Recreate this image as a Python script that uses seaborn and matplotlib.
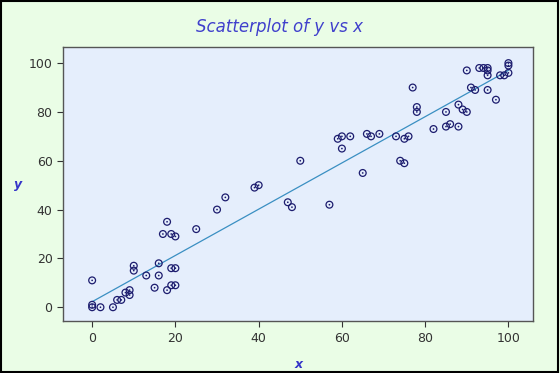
import numpy as np
import pandas as pd
import seaborn as sns
import matplotlib.pyplot as plt
from matplotlib.patches import Rectangle

x_vals = [0, 0, 0, 2, 5, 6, 7, 8, 9, 9, 10, 10, 13, 15, 16, 16, 18, 19, 20, 19,
          20, 18, 17, 19, 20, 25, 30, 32, 39, 40, 47, 48, 50, 57, 65, 59, 60, 60,
          62, 66, 67, 69, 73, 75, 76, 74, 75, 78, 78, 77, 82, 85, 85, 86, 88, 88,
          89, 90, 90, 91, 92, 93, 94, 95, 95, 95, 95, 97, 98, 99, 100, 100, 100]
y_vals = [11, 1, 0, 0, 0, 3, 3, 6, 7, 5, 17, 15, 13, 8, 18, 13, 7, 9, 9, 16,
          16, 35, 30, 30, 29, 32, 40, 45, 49, 50, 43, 41, 60, 42, 55, 69, 70, 65,
          70, 71, 70, 71, 70, 69, 70, 60, 59, 82, 80, 90, 73, 80, 74, 75, 74, 83,
          81, 80, 97, 90, 89, 98, 98, 98, 97, 95, 89, 85, 95, 95, 96, 100, 99]

df = pd.DataFrame({'x': x_vals, 'y': y_vals})

sns.set_style('white')
fig = plt.figure(figsize=(5.6, 3.73), dpi=100, facecolor='#eafde6')
ax = fig.add_axes([0.1125, 0.139, 0.84, 0.735])
ax.set_facecolor('#e5eefc')

navy = '#1c1c6e'
sns.regplot(data=df, x='x', y='y', ci=None, scatter=False, ax=ax,
            line_kws={'color': '#3a8fc2', 'lw': 0.9})
sns.scatterplot(data=df, x='x', y='y', ax=ax, marker='o', s=24,
                facecolor='none', edgecolor=navy, linewidth=0.9, zorder=3)
sns.scatterplot(data=df, x='x', y='y', ax=ax, marker='o', s=1.5,
                color=navy, edgecolor='none', zorder=4)

ax.set_xlim(-7, 106)
ax.set_ylim(-5.7, 106.6)
ax.set_xticks([0, 20, 40, 60, 80, 100])
ax.set_yticks([0, 20, 40, 60, 80, 100])
ax.tick_params(axis='both', direction='out', length=4, width=0.8,
               labelsize=9, colors='#333333', left=True, bottom=True)
for s in ax.spines.values():
    s.set_color('#555555')
    s.set_linewidth(1.0)

ax.set_xlabel('x', fontsize=9, fontstyle='italic', fontweight='bold',
              color='#3535c8', labelpad=10)
ax.set_ylabel('y', fontsize=9, fontstyle='italic', fontweight='bold',
              color='#3535c8', labelpad=8, rotation=0, va='center')
fig.text(0.5, 0.928, 'Scatterplot of y vs x', ha='center', va='center',
         fontsize=12, fontstyle='italic', color='#4040cc')

fig.patches.append(Rectangle((0.002, 0.003), 0.995, 0.994, transform=fig.transFigure,
                             fill=False, edgecolor='black', lw=1.5))

plt.savefig('out.png', dpi=100, facecolor=fig.get_facecolor())
plt.close()
